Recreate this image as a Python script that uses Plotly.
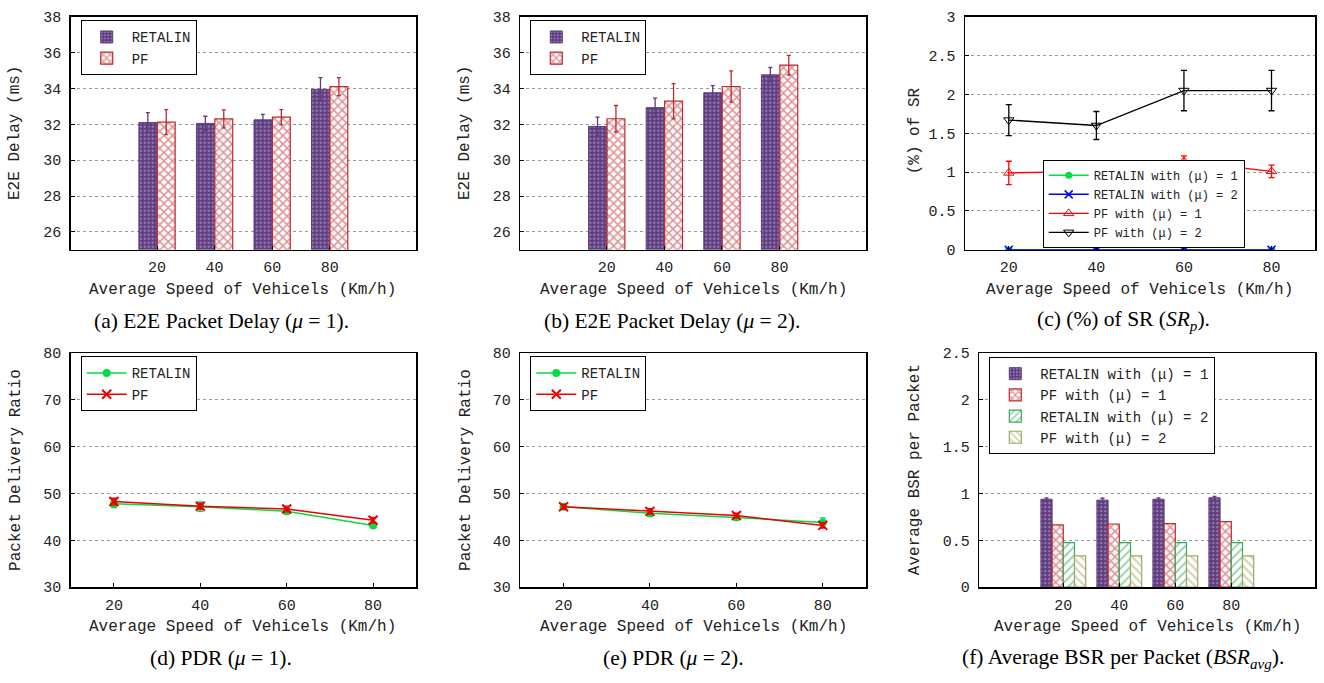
import plotly.graph_objects as go

W, H = 1324, 683

speeds = ["20", "40", "60", "80"]
speed_num = [20, 40, 60, 80]
idx = [0, 1, 2, 3]

# (a) E2E delay mu=1
a_ret = [32.10, 32.05, 32.25, 33.95]
a_ret_err = [0.55, 0.40, 0.30, 0.65]
a_pf = [32.12, 32.30, 32.40, 34.10]
a_pf_err = [0.70, 0.50, 0.42, 0.50]

# (b) E2E delay mu=2
b_ret = [31.88, 32.93, 33.76, 34.76]
b_ret_err = [0.52, 0.53, 0.40, 0.41]
b_pf = [32.31, 33.29, 34.11, 35.30]
b_pf_err = [0.74, 0.98, 0.87, 0.55]

# (c) % of SR
c_ret1 = [0.0, 0.0, 0.0, 0.0]
c_ret2 = [0.0, 0.0, 0.0, 0.0]
c_pf1 = [0.99, 1.01, 1.14, 1.01]
c_pf1_err = [0.15, 0.11, 0.07, 0.08]
c_pf2 = [1.67, 1.60, 2.05, 2.05]
c_pf2_err = [0.20, 0.18, 0.26, 0.26]

# (d) PDR mu=1
d_ret = [47.8, 47.2, 46.2, 43.2]
d_ret_err = [0.8, 1.0, 0.6, 0.4]
d_pf = [48.3, 47.3, 46.7, 44.3]
d_pf_err = [0.7, 0.6, 0.6, 0.6]

# (e) PDR mu=2
e_ret = [47.2, 45.8, 44.9, 43.8]
e_ret_err = [0.5, 0.7, 0.5, 1.0]
e_pf = [47.2, 46.2, 45.3, 43.2]
e_pf_err = [0.5, 0.6, 0.5, 0.6]

# (f) average BSR per packet
f_ret1 = [0.94, 0.93, 0.94, 0.955]
f_ret1_err = [0.015, 0.02, 0.015, 0.015]
f_pf1 = [0.665, 0.675, 0.68, 0.70]
f_ret2 = [0.475, 0.475, 0.475, 0.475]
f_pf2 = [0.335, 0.335, 0.335, 0.335]

captions = [
    "(a) E2E Packet Delay (<i>μ</i> = 1).",
    "(b) E2E Packet Delay (<i>μ</i> = 2).",
    "(c) (%) of SR (<i>SR<sub>p</sub></i>).",
    "(d) PDR (<i>μ</i> = 1).",
    "(e) PDR (<i>μ</i> = 2).",
    "(f) Average BSR per Packet (<i>BSR<sub>avg</sub></i>).",
]

PURPLE = "#5e3c7e"
PURPLE_L = "#cbb9e0"
RED = "#c0282e"
GREEN_B = "#3aa85a"
OLIVE = "#a3a564"
MONO = "Courier New, Liberation Mono, DejaVu Sans Mono, monospace"
SERIF = "Liberation Serif, Times New Roman, serif"
TXT = "#222222"

# panel boxes in pixels: (left, top, right, bottom)
boxes = {
    1: (70.7, 10, 416, 249),
    2: (520.3, 10, 866, 249),
    3: (965, 10, 1315.3, 249),
    4: (70.7, 355, 416.3, 595),
    5: (520.3, 355, 866, 595),
    6: (979.3, 355, 1315.3, 595),
}

fig = go.Figure()


def ret_pattern():
    return dict(shape=".", fgcolor=PURPLE_L, bgcolor=PURPLE, size=4, solidity=0.3)


def pf_pattern():
    return dict(shape="x", fgcolor=RED, bgcolor="white", size=6, solidity=0.45)


def ax(n):
    return ("x" if n == 1 else f"x{n}"), ("y" if n == 1 else f"y{n}")


def leg(n):
    return "legend" if n == 1 else f"legend{n}"


# (a) and (b)
for n, ret, rerr, pf, perr in [(1, a_ret, a_ret_err, a_pf, a_pf_err), (2, b_ret, b_ret_err, b_pf, b_pf_err)]:
    xa, ya = ax(n)
    fig.add_trace(go.Bar(x=idx, y=ret, width=0.31, offset=-0.315, name="RETALIN",
                         marker=dict(color=PURPLE, pattern=ret_pattern(), line=dict(color=PURPLE, width=1)),
                         error_y=dict(type="data", array=rerr, color=PURPLE, thickness=1.3, width=2),
                         xaxis=xa, yaxis=ya, legend=leg(n)))
    fig.add_trace(go.Bar(x=idx, y=pf, width=0.31, offset=0.005, name="PF",
                         marker=dict(color="white", pattern=pf_pattern(), line=dict(color=RED, width=1.2)),
                         error_y=dict(type="data", array=perr, color=RED, thickness=1.3, width=2),
                         xaxis=xa, yaxis=ya, legend=leg(n)))

# (c)
xa, ya = ax(3)
fig.add_trace(go.Scatter(x=speed_num, y=c_ret1, mode="lines+markers", name="RETALIN with (μ) = 1",
                         line=dict(color="#00dd44", width=1.5), marker=dict(symbol="circle", size=7, color="#00dd44"),
                         error_y=dict(type="data", array=[0, 0, 0, 0], color="#00dd44", width=3),
                         xaxis=xa, yaxis=ya, legend=leg(3)))
fig.add_trace(go.Scatter(x=speed_num, y=c_ret2, mode="lines+markers", name="RETALIN with (μ) = 2",
                         line=dict(color="#0000ff", width=1.5), marker=dict(symbol="x-thin", size=8, line=dict(color="#0000ff", width=1.5)),
                         error_y=dict(type="data", array=[0, 0, 0, 0], color="#0000ff", width=3),
                         xaxis=xa, yaxis=ya, legend=leg(3)))
fig.add_trace(go.Scatter(x=speed_num, y=c_pf1, mode="lines+markers", name="PF with (μ) = 1",
                         line=dict(color="#ff0000", width=1.3), marker=dict(symbol="triangle-up-open", size=9, color="#ff0000"),
                         error_y=dict(type="data", array=c_pf1_err, color="#ff0000", thickness=1.3, width=3),
                         xaxis=xa, yaxis=ya, legend=leg(3)))
fig.add_trace(go.Scatter(x=speed_num, y=c_pf2, mode="lines+markers", name="PF with (μ) = 2",
                         line=dict(color="black", width=1.3), marker=dict(symbol="triangle-down-open", size=9, color="black"),
                         error_y=dict(type="data", array=c_pf2_err, color="black", thickness=1.3, width=3),
                         xaxis=xa, yaxis=ya, legend=leg(3)))

# (d) and (e)
for n, ret, rerr, pf, perr in [(4, d_ret, d_ret_err, d_pf, d_pf_err), (5, e_ret, e_ret_err, e_pf, e_pf_err)]:
    xa, ya = ax(n)
    fig.add_trace(go.Scatter(x=speed_num, y=ret, mode="lines+markers", name="RETALIN",
                             line=dict(color="#00dd44", width=1.5), marker=dict(symbol="circle", size=8, color="#00dd44"),
                             error_y=dict(type="data", array=rerr, color="#00dd44", thickness=1.3, width=3),
                             xaxis=xa, yaxis=ya, legend=leg(n)))
    fig.add_trace(go.Scatter(x=speed_num, y=pf, mode="lines+markers", name="PF",
                             line=dict(color="#ee0000", width=1.5), marker=dict(symbol="x-thin", size=9, line=dict(color="#ee0000", width=2)),
                             error_y=dict(type="data", array=perr, color="#ee0000", thickness=1.3, width=3),
                             xaxis=xa, yaxis=ya, legend=leg(n)))

# (f)
xa, ya = ax(6)
fig.add_trace(go.Bar(x=idx, y=f_ret1, width=0.2, offset=-0.4, name="RETALIN with (μ) = 1",
                     marker=dict(color=PURPLE, pattern=ret_pattern(), line=dict(color=PURPLE, width=1)),
                     error_y=dict(type="data", array=f_ret1_err, color=PURPLE, thickness=1.3, width=2),
                     xaxis=xa, yaxis=ya, legend=leg(6)))
fig.add_trace(go.Bar(x=idx, y=f_pf1, width=0.2, offset=-0.2, name="PF with (μ) = 1",
                     marker=dict(color="white", pattern=pf_pattern(), line=dict(color=RED, width=1.2)),
                     xaxis=xa, yaxis=ya, legend=leg(6)))
fig.add_trace(go.Bar(x=idx, y=f_ret2, width=0.2, offset=0.0, name="RETALIN with (μ) = 2",
                     marker=dict(color="white", pattern=dict(shape="/", fgcolor=GREEN_B, bgcolor="white", size=6, solidity=0.35),
                                 line=dict(color=GREEN_B, width=1.2)),
                     xaxis=xa, yaxis=ya, legend=leg(6)))
fig.add_trace(go.Bar(x=idx, y=f_pf2, width=0.2, offset=0.2, name="PF with (μ) = 2",
                     marker=dict(color="white", pattern=dict(shape="\\", fgcolor=OLIVE, bgcolor="white", size=6, solidity=0.35),
                                 line=dict(color=OLIVE, width=1.2)),
                     xaxis=xa, yaxis=ya, legend=leg(6)))

layout = dict(width=W, height=H, margin=dict(l=0, r=0, t=0, b=0), autosize=False,
              paper_bgcolor="white", plot_bgcolor="white", barmode="overlay",
              font=dict(family=MONO, size=14, color=TXT), showlegend=True)

yranges = {1: ([25, 38], [26, 28, 30, 32, 34, 36, 38], None),
           2: ([25, 38], [26, 28, 30, 32, 34, 36, 38], None),
           3: ([0, 3], [0, 0.5, 1, 1.5, 2, 2.5, 3], ["0", "0.5", "1", "1.5", "2", "2.5", "3"]),
           4: ([30, 80], [30, 40, 50, 60, 70, 80], None),
           5: ([30, 80], [30, 40, 50, 60, 70, 80], None),
           6: ([0, 2.5], [0, 0.5, 1, 1.5, 2, 2.5], ["0", "0.5", "1", "1.5", "2", "2.5"])}

for n, (l, t, r, b) in boxes.items():
    xk = "xaxis" if n == 1 else f"xaxis{n}"
    yk = "yaxis" if n == 1 else f"yaxis{n}"
    yn = "y" if n == 1 else f"y{n}"
    xn = "x" if n == 1 else f"x{n}"
    if n in (1, 2, 6):
        xr, xtv, xtt = [-1.5, 4.5], idx, speeds
    else:
        xr, xtv, xtt = [10, 90], speed_num, speeds
    layout[xk] = dict(domain=[l / W, r / W], anchor=yn, range=xr, tickvals=xtv, ticktext=xtt,
                      showline=True, linecolor="black", linewidth=1.5, mirror=True,
                      ticks="inside", ticklen=4, tickcolor="black", showgrid=False, zeroline=False,
                      ticklabelstandoff=3,
                      tickfont=dict(family=MONO, size=15, color=TXT), fixedrange=True)
    yr, ytv, ytt = yranges[n]
    yd = dict(domain=[1 - b / H, 1 - t / H], anchor=xn, range=yr, tickvals=ytv,
              showline=True, linecolor="black", linewidth=1.5, mirror=True,
              ticks="inside", ticklen=4, tickcolor="black",
              showgrid=True, gridcolor="#999999", griddash="dot", gridwidth=1, zeroline=False,
              ticklabelstandoff=5,
              tickfont=dict(family=MONO, size=15, color=TXT), fixedrange=True)
    if ytt:
        yd["ticktext"] = ytt
    layout[yk] = yd

# legends: (left px, anchor y px, yanchor, font size)
legpos = {1: (80.7, 13.7, "top", 14), 2: (530.3, 13.7, "top", 14), 3: (1042.7, 247, "bottom", 12),
          4: (80.7, 358.3, "top", 14), 5: (530.3, 358.3, "top", 14), 6: (989.3, 359, "top", 14)}
for n, (lx, ty, ya_, fs) in legpos.items():
    layout[leg(n)] = dict(x=lx / W, y=1 - ty / H, xanchor="left", yanchor=ya_, xref="paper", yref="paper",
                          bgcolor="white", bordercolor="black", borderwidth=1,
                          font=dict(family=MONO, size=fs, color=TXT), tracegroupgap=0,
                          itemwidth=40, traceorder="normal")

fig.update_layout(**layout)

ann = []
# y axis titles (x px center, y px center, text)
ytitles = [(15.7, 129.5, "E2E Delay (ms)"), (465.7, 129.5, "E2E Delay (ms)"), (915, 127.5, "(%) of SR"),
           (15.7, 475, "Packet Delivery Ratio"), (465.7, 475, "Packet Delivery Ratio"), (915, 475, "Average BSR per Packet")]
for x, y, t in ytitles:
    ann.append(dict(x=x / W, y=1 - y / H, xref="paper", yref="paper", text=t, showarrow=False, textangle=-90,
                    font=dict(family=MONO, size=16, color=TXT), xanchor="center", yanchor="middle"))
xtitles = [(242, 290.3), (693, 290.3), (1139, 290.3), (242, 635.7), (693, 635.7), (1147, 635.7)]
for x, y in xtitles:
    ann.append(dict(x=x / W, y=1 - y / H, xref="paper", yref="paper", text="Average Speed of Vehicels (Km/h)",
                    showarrow=False, font=dict(family=MONO, size=16, color=TXT), xanchor="center", yanchor="middle"))
cpos = [(221, 321.7), (672, 321.7), (1123, 321.7), (221, 668), (673, 668), (1123, 668)]
for (x, y), t in zip(cpos, captions):
    ann.append(dict(x=x / W, y=1 - y / H, xref="paper", yref="paper", text=t, showarrow=False,
                    font=dict(family=SERIF, size=21.5, color="black"), xanchor="center", yanchor="middle"))
fig.update_layout(annotations=ann)

fig.write_html("out.html", config={"displayModeBar": False, "staticPlot": True},
               post_script="document.body.style.margin='0';")
